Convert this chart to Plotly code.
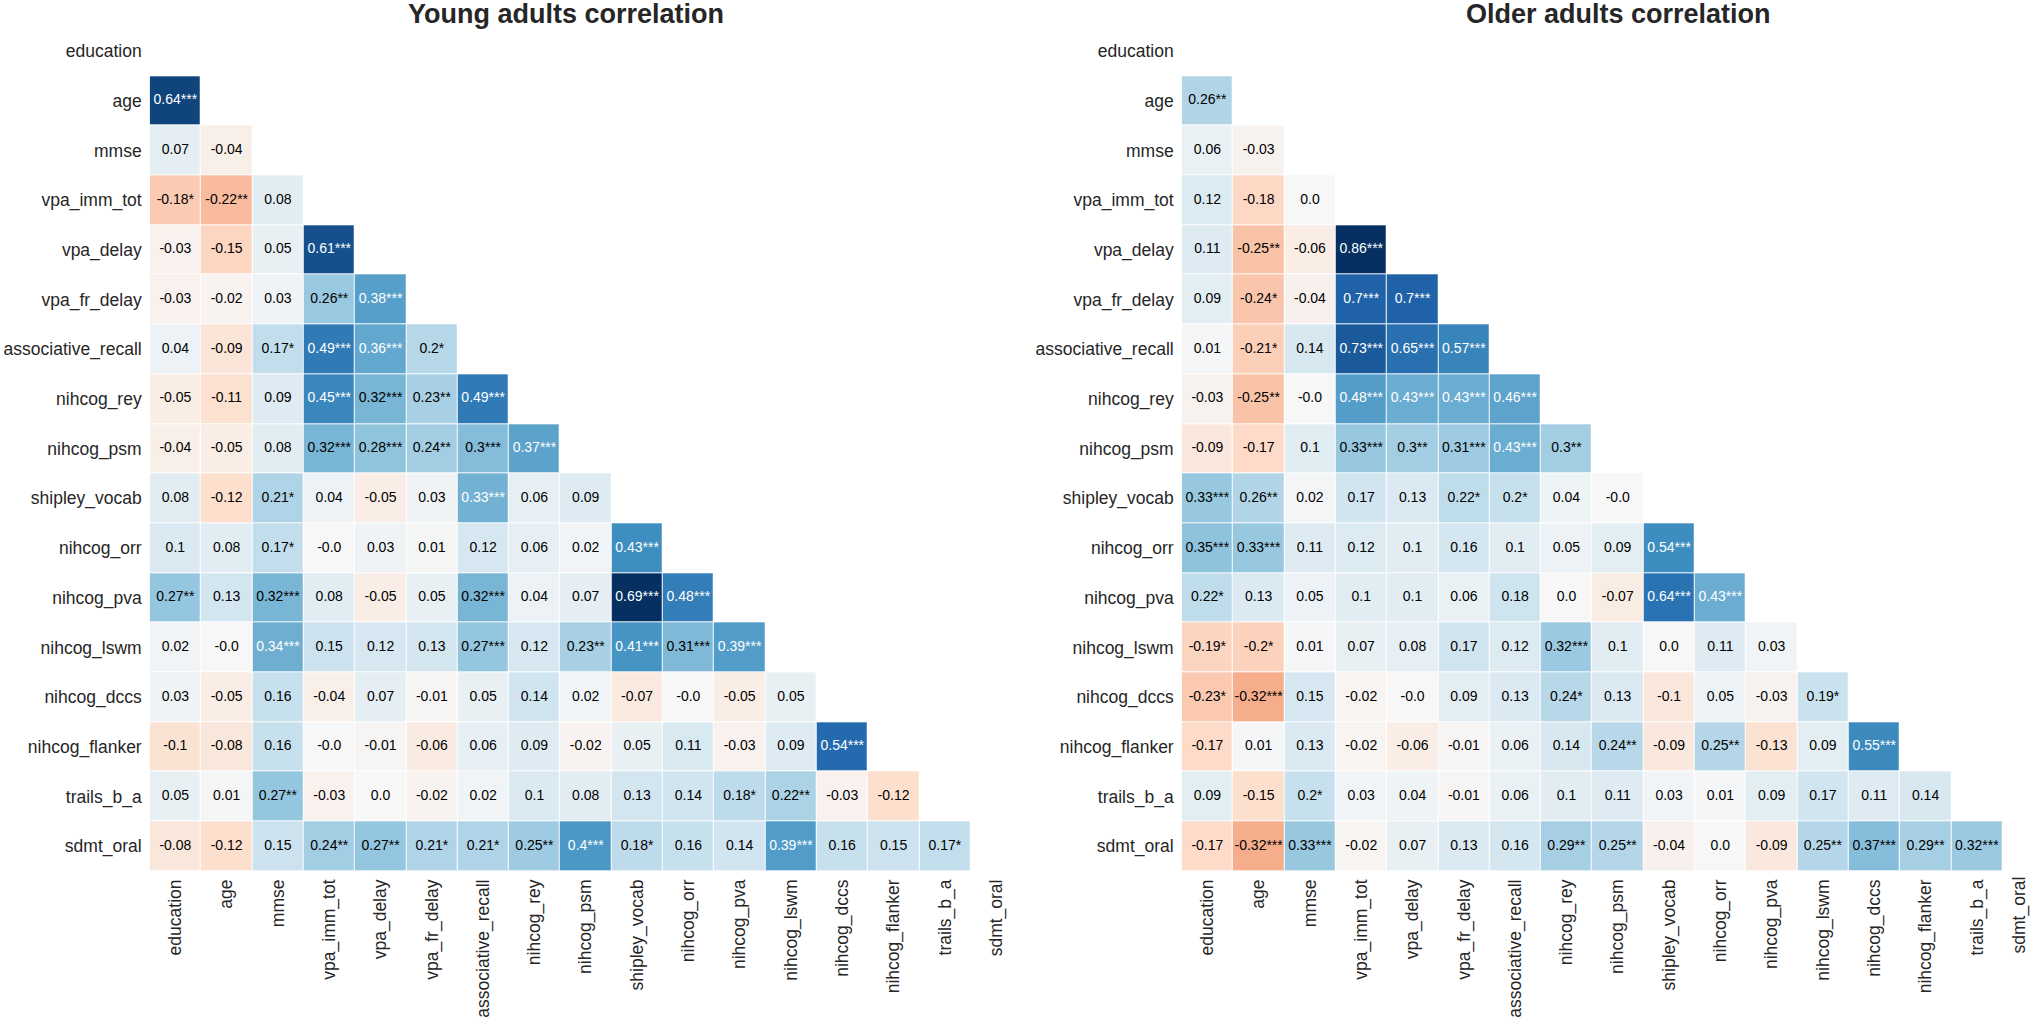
import plotly.graph_objects as go

W, H = 2031, 1020

variables = ["education", "age", "mmse", "vpa_imm_tot", "vpa_delay", "vpa_fr_delay",
             "associative_recall", "nihcog_rey", "nihcog_psm", "shipley_vocab", "nihcog_orr",
             "nihcog_pva", "nihcog_lswm", "nihcog_dccs", "nihcog_flanker", "trails_b_a", "sdmt_oral"]

# lower-triangle correlations (row i has i values), young adults
young_r = [
    [],
    [0.64],
    [0.07, -0.04],
    [-0.18, -0.22, 0.08],
    [-0.03, -0.15, 0.05, 0.61],
    [-0.03, -0.02, 0.03, 0.26, 0.38],
    [0.04, -0.09, 0.17, 0.49, 0.36, 0.2],
    [-0.05, -0.11, 0.09, 0.45, 0.32, 0.23, 0.49],
    [-0.04, -0.05, 0.08, 0.32, 0.28, 0.24, 0.3, 0.37],
    [0.08, -0.12, 0.21, 0.04, -0.05, 0.03, 0.33, 0.06, 0.09],
    [0.1, 0.08, 0.17, -0.0, 0.03, 0.01, 0.12, 0.06, 0.02, 0.43],
    [0.27, 0.13, 0.32, 0.08, -0.05, 0.05, 0.32, 0.04, 0.07, 0.69, 0.48],
    [0.02, -0.0, 0.34, 0.15, 0.12, 0.13, 0.27, 0.12, 0.23, 0.41, 0.31, 0.39],
    [0.03, -0.05, 0.16, -0.04, 0.07, -0.01, 0.05, 0.14, 0.02, -0.07, -0.0, -0.05, 0.05],
    [-0.1, -0.08, 0.16, -0.0, -0.01, -0.06, 0.06, 0.09, -0.02, 0.05, 0.11, -0.03, 0.09, 0.54],
    [0.05, 0.01, 0.27, -0.03, 0.0, -0.02, 0.02, 0.1, 0.08, 0.13, 0.14, 0.18, 0.22, -0.03, -0.12],
    [-0.08, -0.12, 0.15, 0.24, 0.27, 0.21, 0.21, 0.25, 0.4, 0.18, 0.16, 0.14, 0.39, 0.16, 0.15, 0.17],
]
young_sig = [
    [],
    ["***"],
    ["", ""],
    ["*", "**", ""],
    ["", "", "", "***"],
    ["", "", "", "**", "***"],
    ["", "", "*", "***", "***", "*"],
    ["", "", "", "***", "***", "**", "***"],
    ["", "", "", "***", "***", "**", "***", "***"],
    ["", "", "*", "", "", "", "***", "", ""],
    ["", "", "*", "", "", "", "", "", "", "***"],
    ["**", "", "***", "", "", "", "***", "", "", "***", "***"],
    ["", "", "***", "", "", "", "***", "", "**", "***", "***", "***"],
    ["", "", "", "", "", "", "", "", "", "", "", "", ""],
    ["", "", "", "", "", "", "", "", "", "", "", "", "", "***"],
    ["", "", "**", "", "", "", "", "", "", "", "", "*", "**", "", ""],
    ["", "", "", "**", "**", "*", "*", "**", "***", "*", "", "", "***", "", "", "*"],
]

# older adults
older_r = [
    [],
    [0.26],
    [0.06, -0.03],
    [0.12, -0.18, 0.0],
    [0.11, -0.25, -0.06, 0.86],
    [0.09, -0.24, -0.04, 0.7, 0.7],
    [0.01, -0.21, 0.14, 0.73, 0.65, 0.57],
    [-0.03, -0.25, -0.0, 0.48, 0.43, 0.43, 0.46],
    [-0.09, -0.17, 0.1, 0.33, 0.3, 0.31, 0.43, 0.3],
    [0.33, 0.26, 0.02, 0.17, 0.13, 0.22, 0.2, 0.04, -0.0],
    [0.35, 0.33, 0.11, 0.12, 0.1, 0.16, 0.1, 0.05, 0.09, 0.54],
    [0.22, 0.13, 0.05, 0.1, 0.1, 0.06, 0.18, 0.0, -0.07, 0.64, 0.43],
    [-0.19, -0.2, 0.01, 0.07, 0.08, 0.17, 0.12, 0.32, 0.1, 0.0, 0.11, 0.03],
    [-0.23, -0.32, 0.15, -0.02, -0.0, 0.09, 0.13, 0.24, 0.13, -0.1, 0.05, -0.03, 0.19],
    [-0.17, 0.01, 0.13, -0.02, -0.06, -0.01, 0.06, 0.14, 0.24, -0.09, 0.25, -0.13, 0.09, 0.55],
    [0.09, -0.15, 0.2, 0.03, 0.04, -0.01, 0.06, 0.1, 0.11, 0.03, 0.01, 0.09, 0.17, 0.11, 0.14],
    [-0.17, -0.32, 0.33, -0.02, 0.07, 0.13, 0.16, 0.29, 0.25, -0.04, 0.0, -0.09, 0.25, 0.37, 0.29, 0.32],
]
older_sig = [
    [],
    ["**"],
    ["", ""],
    ["", "", ""],
    ["", "**", "", "***"],
    ["", "*", "", "***", "***"],
    ["", "*", "", "***", "***", "***"],
    ["", "**", "", "***", "***", "***", "***"],
    ["", "", "", "***", "**", "***", "***", "**"],
    ["***", "**", "", "", "", "*", "*", "", ""],
    ["***", "***", "", "", "", "", "", "", "", "***"],
    ["*", "", "", "", "", "", "", "", "", "***", "***"],
    ["*", "*", "", "", "", "", "", "***", "", "", "", ""],
    ["*", "***", "", "", "", "", "", "*", "", "", "", "", "*"],
    ["", "", "", "", "", "", "", "", "**", "", "**", "", "", "***"],
    ["", "", "*", "", "", "", "", "", "", "", "", "", "", "", ""],
    ["", "***", "***", "", "", "", "", "**", "**", "", "", "", "**", "***", "**", "***"],
]

titles = ["Young adults correlation", "Older adults correlation"]

# matplotlib RdBu
RDBU = ["#67001f", "#b2182b", "#d6604d", "#f4a582", "#fddbc7", "#f7f7f7",
        "#d1e5f0", "#92c5de", "#4393c3", "#2166ac", "#053061"]
colorscale = [[i / 10, c] for i, c in enumerate(RDBU)]


def hex2rgb(h):
    return tuple(int(h[k:k + 2], 16) for k in (1, 3, 5))


def cmap(t):
    t = min(max(t, 0.0), 1.0)
    s = t * 10
    i = min(int(s), 9)
    f = s - i
    a, b = hex2rgb(RDBU[i]), hex2rgb(RDBU[i + 1])
    return tuple(a[k] + (b[k] - a[k]) * f for k in range(3))


def lum(rgb):
    out = []
    for c in rgb:
        c = c / 255
        out.append(c / 12.92 if c <= 0.03928 else ((c + 0.055) / 1.055) ** 2.4)
    return 0.2126 * out[0] + 0.7152 * out[1] + 0.0722 * out[2]


n = len(variables)
TXT = "#262626"
FONT = "Arial, Liberation Sans, sans-serif"
TICK_SIZE = 17.5

# pixel geometry
cell_w = 51.3
y_top, y_bot = 26.3, 871.0
panels = [
    dict(x0=149.7, x1=149.7 + n * cell_w, title_x=566),
    dict(x0=1181.7, x1=W, title_x=1618),
]

fig = go.Figure()
data_sets = [(young_r, young_sig), (older_r, older_sig)]

for p, ((rv, sg), geo) in enumerate(zip(data_sets, panels)):
    xa = "x" if p == 0 else "x2"
    ya = "y" if p == 0 else "y2"
    flat = [v for row in rv for v in row]
    vrange = max(max(flat), -min(flat))
    z = [[(rv[i][j] if j < i else None) for j in range(n)] for i in range(n)]
    fig.add_trace(go.Heatmap(
        z=z, x=list(range(n)), y=list(range(n)),
        zmin=-vrange, zmax=vrange, colorscale=colorscale, showscale=False,
        xgap=1, ygap=1, hoverinfo="skip", xaxis=xa, yaxis=ya))
    for color in ("#000000", "#ffffff"):
        xs, ys, ts = [], [], []
        for i in range(n):
            for j in range(i):
                v = rv[i][j]
                rgb = cmap((v + vrange) / (2 * vrange))
                c = "#000000" if lum(rgb) > 0.408 else "#ffffff"
                if c == color:
                    xs.append(j)
                    ys.append(i)
                    ts.append(f"{v}{sg[i][j]}")
        fig.add_trace(go.Scatter(
            x=xs, y=ys, text=ts, mode="text", textposition="middle center",
            textfont=dict(family=FONT, size=14, color=color),
            hoverinfo="skip", showlegend=False, xaxis=xa, yaxis=ya))

    x_units_end = (geo["x1"] - geo["x0"]) / cell_w - 0.5
    # last column label of the right panel sits at the page edge; drawn separately
    tick_idx = list(range(n)) if p == 0 else list(range(n - 1))
    ax = dict(
        domain=[geo["x0"] / W, geo["x1"] / W],
        range=[-0.5, x_units_end],
        tickmode="array", tickvals=tick_idx, ticktext=[variables[k] for k in tick_idx],
        tickangle=-90, ticks="", showgrid=False, zeroline=False, showline=False,
        tickfont=dict(family=FONT, size=TICK_SIZE, color=TXT), ticklabelstandoff=4,
    )
    ay = dict(
        domain=[(H - y_bot) / H, (H - y_top) / H],
        range=[n - 0.5, -0.5],
        tickmode="array", tickvals=list(range(n)), ticktext=variables,
        ticks="", showgrid=False, zeroline=False, showline=False,
        tickfont=dict(family=FONT, size=TICK_SIZE, color=TXT), ticklabelstandoff=7,
        anchor=xa,
    )
    ax["anchor"] = ya
    if p == 0:
        fig.update_layout(xaxis=ax, yaxis=ay)
    else:
        fig.update_layout(xaxis2=ax, yaxis2=ay)

    fig.add_annotation(
        text=f"<b>{titles[p]}</b>", xref="paper", yref="paper",
        x=geo["title_x"] / W, y=1 - 14 / H, xanchor="center", yanchor="middle",
        showarrow=False, font=dict(family=FONT, size=27, color=TXT))

# right-panel last column label, kept inside the page
fig.add_annotation(
    text=variables[-1], xref="paper", yref="paper",
    x=2019 / W, y=(H - y_bot - 5) / H, xanchor="center", yanchor="top",
    textangle=-90, showarrow=False, borderpad=0,
    font=dict(family=FONT, size=TICK_SIZE, color=TXT))

fig.update_layout(
    width=W, height=H, margin=dict(l=0, r=0, t=0, b=0),
    paper_bgcolor="white", plot_bgcolor="white", showlegend=False,
)

post = (
    "var st=document.createElement('style');"
    "st.textContent='html,body{margin:0!important;padding:0!important;overflow:hidden!important;}';"
    "document.head.appendChild(st);"
)
fig.write_html("out.html", config={"displayModeBar": False}, post_script=post)
